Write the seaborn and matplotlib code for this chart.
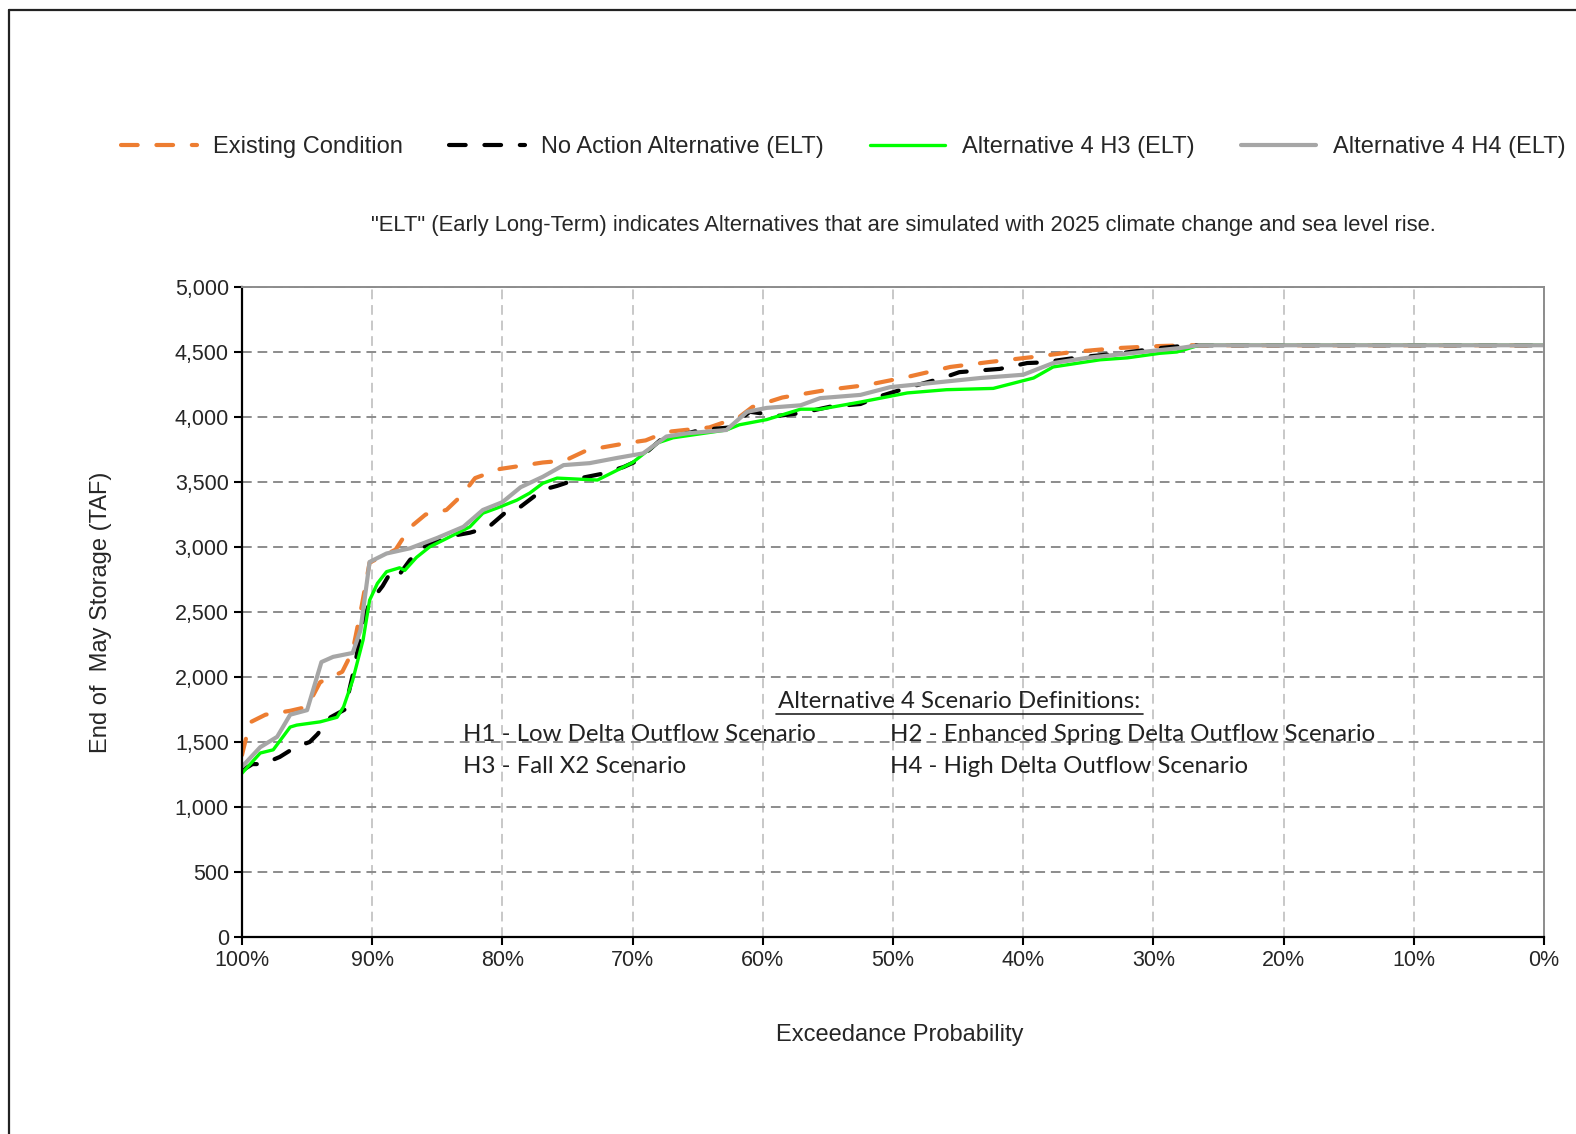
import matplotlib
matplotlib.use('Agg')
import matplotlib.pyplot as plt
import seaborn as sns
from matplotlib.ticker import FuncFormatter, MultipleLocator
from matplotlib.lines import Line2D

# Exceedance probability (%) and End of May storage (TAF)
existing_p = [100, 99.4, 98.2, 96.3, 95.0, 94.0, 92.3, 91.5, 90.8, 90.2, 89.4, 88.2, 87.1,
              85.9, 84.3, 83.1, 82.1, 80.2, 76.9, 75.2, 73.5, 70.4, 69.0, 67.4, 64.1, 61.8,
              60.8, 58.5, 55.1, 52.0, 48.9, 45.6, 42.6, 39.2, 36.2, 32.8, 29.5, 27.2, 0]
existing_v = [1400, 1650, 1710, 1740, 1770, 1960, 2040, 2200, 2550, 2880, 2920, 2980, 3150,
              3250, 3285, 3400, 3530, 3600, 3650, 3665, 3745, 3800, 3820, 3885, 3920, 4000,
              4077, 4150, 4208, 4246, 4308, 4385, 4423, 4462, 4500, 4530, 4546, 4552, 4552]

noaction_p = [100, 99.2, 98.4, 97.1, 95.9, 94.8, 94.2, 93.2, 92.1, 91.3, 90.8, 90.2, 89.2,
              88.5, 87.9, 87.1, 85.9, 84.8, 83.6, 82.5, 81.1, 79.6, 78.6, 76.9, 75.8, 74.0,
              72.5, 70.7, 69.7, 67.9, 64.8, 62.5, 61.0, 58.7, 57.1, 54.8, 52.5, 51.0, 48.7,
              46.2, 44.9, 43.1, 41.8, 39.7, 38.5, 35.6, 32.6, 29.5, 27.2, 0]
noaction_v = [1280, 1330, 1330, 1385, 1460, 1500, 1560, 1690, 1750, 2100, 2400, 2570, 2700,
              2820, 2790, 2900, 3010, 3050, 3090, 3110, 3150, 3280, 3310, 3440, 3470, 3530,
              3560, 3615, 3660, 3820, 3900, 3920, 4040, 4010, 4030, 4080, 4100, 4160, 4230,
              4300, 4345, 4360, 4370, 4415, 4420, 4460, 4490, 4530, 4552, 4552]

h3_p = [100, 98.6, 97.6, 96.3, 95.8, 94.0, 92.7, 92.2, 91.5, 90.7, 90.2, 89.6, 88.9, 87.9,
        87.5, 86.6, 85.6, 84.0, 82.5, 81.5, 80.4, 78.9, 77.9, 76.9, 75.8, 72.7, 70.0, 68.1,
        66.9, 62.8, 61.8, 59.7, 57.1, 55.6, 52.5, 48.9, 45.9, 42.3, 39.2, 37.7, 34.1, 32.0,
        29.5, 28.2, 26.5, 0]
h3_v = [1260, 1415, 1440, 1615, 1630, 1655, 1690, 1770, 1975, 2285, 2590, 2720, 2810, 2840,
        2820, 2920, 3000, 3080, 3155, 3260, 3300, 3360, 3415, 3490, 3530, 3515, 3650, 3800,
        3840, 3900, 3940, 3980, 4060, 4060, 4115, 4185, 4210, 4220, 4300, 4385, 4440, 4455,
        4490, 4500, 4552, 4552]

h4_p = [100, 98.6, 97.3, 96.3, 95.0, 93.9, 93.0, 91.5, 90.9, 90.2, 88.9, 87.1, 85.0, 83.0,
        81.5, 80.0, 78.6, 76.9, 75.3, 73.3, 71.2, 69.2, 67.4, 65.8, 62.8, 61.2, 59.7, 57.1,
        55.6, 52.5, 50.2, 47.2, 43.3, 40.0, 37.7, 35.1, 31.8, 29.5, 28.0, 26.5, 0]
h4_v = [1310, 1460, 1540, 1710, 1745, 2115, 2155, 2185, 2360, 2885, 2950, 2990, 3070, 3155,
        3285, 3345, 3460, 3540, 3630, 3645, 3685, 3720, 3850, 3875, 3900, 4040, 4070, 4090,
        4145, 4170, 4230, 4260, 4300, 4325, 4415, 4455, 4490, 4515, 4530, 4552, 4552]

labels = ['Existing Condition', 'No Action Alternative (ELT)',
          'Alternative 4 H3 (ELT)', 'Alternative 4 H4 (ELT)']
colors = ['#ED7D31', '#000000', '#00FF00', '#A6A6A6']

x_ticks = [100, 90, 80, 70, 60, 50, 40, 30, 20, 10, 0]

sns.set_style('white')
plt.rcParams['font.family'] = ['Liberation Sans', 'DejaVu Sans']

fig = plt.figure(figsize=(15.76, 11.34), dpi=100)
ax = fig.add_axes([242 / 1576, 197 / 1134, 1302 / 1576, 650 / 1134])

sns.lineplot(x=existing_p, y=existing_v, ax=ax, color=colors[0], lw=3.0,
             linestyle=(0, (4, 4.5)), dash_capstyle='round', label=labels[0], sort=False)
sns.lineplot(x=noaction_p, y=noaction_v, ax=ax, color=colors[1], lw=3.0,
             linestyle=(0, (4, 4.5)), dash_capstyle='round', label=labels[1], sort=False)
sns.lineplot(x=h3_p, y=h3_v, ax=ax, color=colors[2], lw=2.4, label=labels[2], sort=False)
sns.lineplot(x=h4_p, y=h4_v, ax=ax, color=colors[3], lw=3.0, label=labels[3], sort=False)

ax.set_xlim(100, 0)
ax.set_ylim(0, 5000)
ax.set_xticks(x_ticks)
ax.xaxis.set_major_formatter(FuncFormatter(lambda v, p: f'{v:.0f}%'))
ax.yaxis.set_major_locator(MultipleLocator(500))
ax.yaxis.set_major_formatter(FuncFormatter(lambda v, p: f'{v:,.0f}'))
ax.tick_params(axis='both', labelsize=15.5, direction='out', length=6, width=1.5,
               color='black', left=True, bottom=True)

ax.yaxis.grid(True, color='#8c8c8c', linestyle=(0, (5, 3)), lw=1.4)
ax.xaxis.grid(True, color='#c8c8c8', linestyle=(0, (5, 3)), lw=1.4)
for side in ['left', 'bottom']:
    ax.spines[side].set_color('black')
    ax.spines[side].set_linewidth(1.6)
for side in ['top', 'right']:
    ax.spines[side].set_color('#8c8c8c')
    ax.spines[side].set_linewidth(1.4)

ax.set_xlabel('Exceedance Probability', fontsize=17)
ax.set_ylabel('End of  May Storage (TAF)', fontsize=17)
ax.xaxis.set_label_coords(0.505, -0.134)
ax.yaxis.set_label_coords(-0.100, 0.5)

# scenario definitions box
note_font = ['Lato', 'DejaVu Sans']
note_size = 17.3
ax.text(0.551, 0.362, 'Alternative 4 Scenario Definitions:', transform=ax.transAxes,
        ha='center', va='center', fontsize=note_size, family=note_font, color='#222222')
ax.plot([0.410, 0.692], [0.343, 0.343], transform=ax.transAxes, color='#222222', lw=1.2)
ax.text(0.170, 0.312, 'H1 - Low Delta Outflow Scenario', transform=ax.transAxes,
        ha='left', va='center', fontsize=note_size, family=note_font, color='#222222')
ax.text(0.498, 0.312, 'H2 - Enhanced Spring Delta Outflow Scenario', transform=ax.transAxes,
        ha='left', va='center', fontsize=note_size, family=note_font, color='#222222')
ax.text(0.170, 0.263, 'H3 - Fall X2 Scenario', transform=ax.transAxes,
        ha='left', va='center', fontsize=note_size, family=note_font, color='#222222')
ax.text(0.498, 0.263, 'H4 - High Delta Outflow Scenario', transform=ax.transAxes,
        ha='left', va='center', fontsize=note_size, family=note_font, color='#222222')

handles, labs = ax.get_legend_handles_labels()
ax.get_legend().remove()
fig.legend(handles, labs, loc='center', bbox_to_anchor=(0.535, 1 - 147 / 1134), ncol=4,
           frameon=False, fontsize=17, handlelength=3.2, handletextpad=0.7,
           columnspacing=1.95)

fig.text(0.573, 1 - 226 / 1134,
         '"ELT" (Early Long-Term) indicates Alternatives that are simulated with 2025 '
         'climate change and sea level rise.',
         ha='center', va='center', fontsize=15.8, family=['Liberation Sans', 'DejaVu Sans'])

# outer frame of the exhibit
fig.add_artist(Line2D([9 / 1576, 1.0], [1 - 10 / 1134, 1 - 10 / 1134], color='#222222', lw=1.6))
fig.add_artist(Line2D([9 / 1576, 9 / 1576], [0.0, 1 - 10 / 1134], color='#222222', lw=1.6))

fig.savefig('out.png', dpi=100)
